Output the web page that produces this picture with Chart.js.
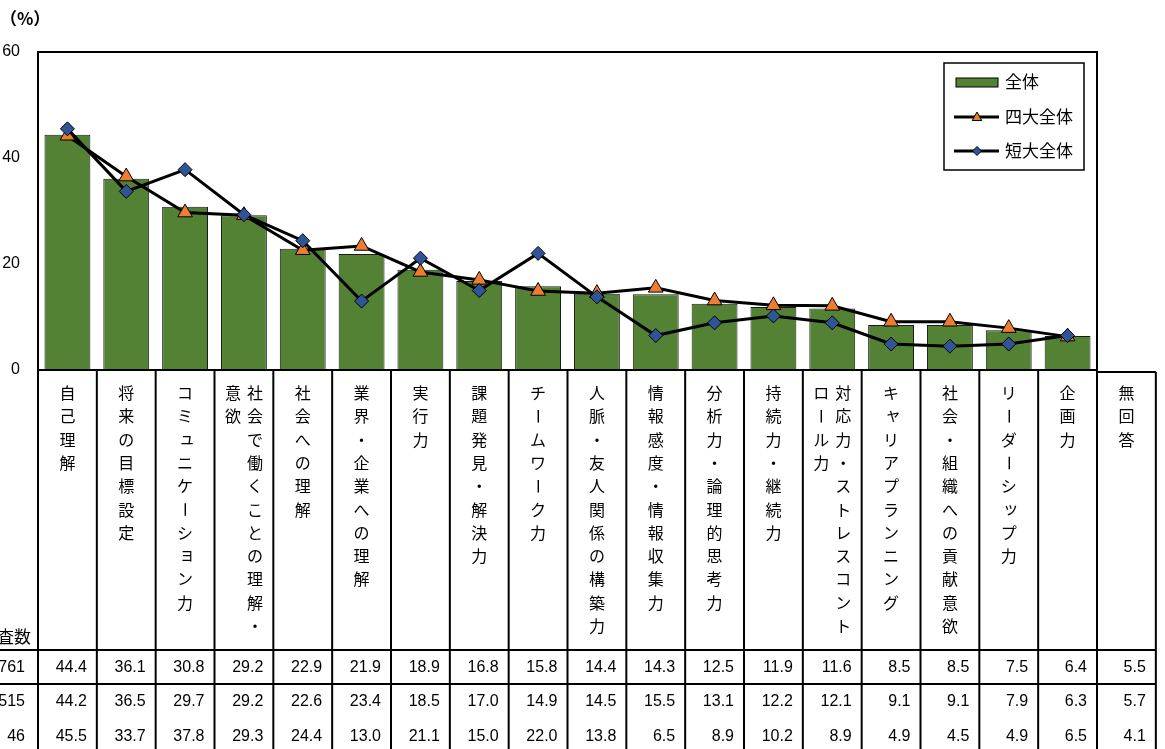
<!DOCTYPE html>
<html>
<head>
<meta charset="utf-8">
<script src="https://cdn.jsdelivr.net/npm/chart.js@4.4.1/dist/chart.umd.min.js"></script>
<style>
  html, body { margin: 0; padding: 0; background: #fff; }
  #wrap { width: 1165px; height: 749px; position: relative; }
</style>
</head>
<body>
<div id="wrap"><canvas id="chart"></canvas></div>
<script>
// 項目（最後の「無回答」は表のみ）
const categories = ['自己理解', '将来の目標設定', 'コミュニケーション力', '社会で働くことの理解・意欲', '社会への理解',
  '業界・企業への理解', '実行力', '課題発見・解決力', 'チームワーク力', '人脈・友人関係の構築力', '情報感度・情報収集力',
  '分析力・論理的思考力', '持続力・継続力', '対応力・ストレスコントロール力', 'キャリアプランニング', '社会・組織への貢献意欲',
  'リーダーシップ力', '企画力', '無回答'];
const zentai = [44.4, 36.1, 30.8, 29.2, 22.9, 21.9, 18.9, 16.8, 15.8, 14.4, 14.3, 12.5, 11.9, 11.6, 8.5, 8.5, 7.5, 6.4, 5.5];
const yondai = [44.2, 36.5, 29.7, 29.2, 22.6, 23.4, 18.5, 17.0, 14.9, 14.5, 15.5, 13.1, 12.2, 12.1, 9.1, 9.1, 7.9, 6.3, 5.7];
const tandai = [45.5, 33.7, 37.8, 29.3, 24.4, 13.0, 21.1, 15.0, 22.0, 13.8, 6.5, 8.9, 10.2, 8.9, 4.9, 4.5, 4.9, 6.5, 4.1];
const seriesNames = ['全体', '四大全体', '短大全体'];
const rowCounts = ['761', '515', '46'];
const countHeader = '査数';
const unitLabel = '（%）';
const yMax = 60, yStep = 20;

const nPlot = categories.length - 1; // 無回答はグラフに描かない
const GREEN = '#548235', ORANGE = '#ED7D31', BLUE = '#2F5597';
const JP = '"Noto Sans CJK JP", "Noto Sans", sans-serif';
const NUM = '"Liberation Sans", Arial, sans-serif';

function drawTri(ctx, x, y, r) {
  ctx.beginPath();
  ctx.moveTo(x, y - r);
  ctx.lineTo(x + r * 0.95, y + r * 0.7);
  ctx.lineTo(x - r * 0.95, y + r * 0.7);
  ctx.closePath();
  ctx.fill(); ctx.stroke();
}
function drawDia(ctx, x, y, r) {
  ctx.beginPath();
  ctx.moveTo(x, y - r); ctx.lineTo(x + r, y); ctx.lineTo(x, y + r); ctx.lineTo(x - r, y);
  ctx.closePath();
  ctx.fill(); ctx.stroke();
}

const tablePlugin = {
  id: 'tableAndFrame',
  afterDraw(chart) {
    const ctx = chart.ctx, a = chart.chartArea;
    const colW = (a.right - a.left) / nPlot;
    const H = chart.height;
    const tableRight = a.right + colW;
    ctx.save();

    // 枠
    ctx.strokeStyle = '#000';
    ctx.lineWidth = 2;
    ctx.strokeRect(a.left, a.top, a.right - a.left, a.bottom - a.top);

    // 単位
    ctx.fillStyle = '#000';
    ctx.font = 'bold 17px ' + JP;
    ctx.textAlign = 'left';
    ctx.textBaseline = 'middle';
    ctx.fillText(unitLabel, 0, 19);

    // 表の罫線
    ctx.beginPath();
    for (let i = 0; i <= nPlot + 1; i++) {
      const xx = a.left + i * colW;
      ctx.moveTo(xx, i === nPlot + 1 ? a.bottom + 2 : a.bottom);
      ctx.lineTo(xx, H);
    }
    ctx.moveTo(a.right, a.bottom + 2); ctx.lineTo(tableRight, a.bottom + 2);
    ctx.moveTo(0, 650); ctx.lineTo(tableRight, 650);
    ctx.moveTo(0, 684); ctx.lineTo(tableRight, 684);
    ctx.stroke();

    // 縦書き項目名
    ctx.font = '16px ' + JP;
    ctx.textAlign = 'center';
    const small = 'ュョャッィ';
    categories.forEach((label, i) => {
      const cx = a.left + (i + 0.5) * colW;
      const chunks = [];
      for (let k = 0; k < label.length; k += 11) chunks.push(label.slice(k, k + 11));
      chunks.forEach((chunk, j) => {
        const colX = cx + (chunks.length - 1) * 11 - j * 22;
        [...chunk].forEach((ch, k) => {
          const yy = 393 + k * 23.3;
          ctx.save();
          if (ch === 'ー') {
            ctx.translate(colX, yy);
            ctx.rotate(Math.PI / 2);
            ctx.fillText(ch, 0, 0);
          } else if (small.includes(ch)) {
            ctx.fillText(ch, colX + 2, yy - 2);
          } else {
            ctx.fillText(ch, colX, yy);
          }
          ctx.restore();
        });
      });
    });

    // 数値
    ctx.font = '16px ' + NUM;
    ctx.textAlign = 'right';
    const rows = [zentai, yondai, tandai];
    const rowY = [668, 702, 737];
    rows.forEach((arr, r) => {
      arr.forEach((v, i) => {
        ctx.fillText(v.toFixed(1), a.left + (i + 1) * colW - 10, rowY[r]);
      });
      ctx.fillText(rowCounts[r], 25, rowY[r]);
    });
    ctx.font = '17px ' + JP;
    ctx.fillText(countHeader, 31, 637);

    // 凡例
    const lx = 944, ly = 63;
    ctx.lineWidth = 1.5;
    ctx.strokeRect(lx, ly, 140, 107);
    ctx.lineWidth = 1;
    ctx.fillStyle = GREEN;
    ctx.fillRect(lx + 12, ly + 15, 42, 9);
    ctx.strokeRect(lx + 12, ly + 15, 42, 9);
    [[117, ORANGE, drawTri, 5], [151, BLUE, drawDia, 4.5]].forEach(([yy, col, fn, r]) => {
      ctx.lineWidth = 3;
      ctx.beginPath(); ctx.moveTo(lx + 10, yy); ctx.lineTo(lx + 55, yy); ctx.stroke();
      ctx.lineWidth = 1;
      ctx.fillStyle = col;
      fn(ctx, lx + 33, yy, r);
    });
    ctx.fillStyle = '#000';
    ctx.font = '17px ' + JP;
    ctx.textAlign = 'left';
    ctx.fillText(seriesNames[0], lx + 61, 82);
    ctx.fillText(seriesNames[1], lx + 61, 117);
    ctx.fillText(seriesNames[2], lx + 61, 151);
    ctx.restore();
  }
};

new Chart(document.getElementById('chart'), {
  data: {
    labels: categories.slice(0, nPlot),
    datasets: [
      {
        type: 'line', label: seriesNames[2], data: tandai.slice(0, nPlot), order: 1,
        borderColor: '#000', borderWidth: 3, tension: 0,
        pointStyle: 'rectRot', pointRadius: 7, pointBackgroundColor: BLUE,
        pointBorderColor: '#000', pointBorderWidth: 1
      },
      {
        type: 'line', label: seriesNames[1], data: yondai.slice(0, nPlot), order: 2,
        borderColor: '#000', borderWidth: 3, tension: 0,
        pointStyle: 'triangle', pointRadius: 8.5, pointBackgroundColor: ORANGE,
        pointBorderColor: '#000', pointBorderWidth: 1
      },
      {
        type: 'bar', label: seriesNames[0], data: zentai.slice(0, nPlot), order: 3,
        backgroundColor: GREEN, borderColor: '#1a1a1a', borderWidth: 1,
        barPercentage: 0.78, categoryPercentage: 1
      }
    ]
  },
  options: {
    responsive: true,
    maintainAspectRatio: false,
    animation: false,
    events: [],
    layout: { padding: { left: 0, top: 52, right: 68, bottom: 379 } },
    plugins: { legend: { display: false }, tooltip: { enabled: false } },
    scales: {
      x: { display: false, offset: true },
      y: {
        min: 0, max: yMax,
        afterFit(scale) { scale.width = 38; },
        grid: { display: false, drawTicks: false },
        border: { display: false },
        ticks: { stepSize: yStep, padding: 18, color: '#000', font: { size: 16, family: NUM } }
      }
    }
  },
  plugins: [tablePlugin]
});
</script>
</body>
</html>
